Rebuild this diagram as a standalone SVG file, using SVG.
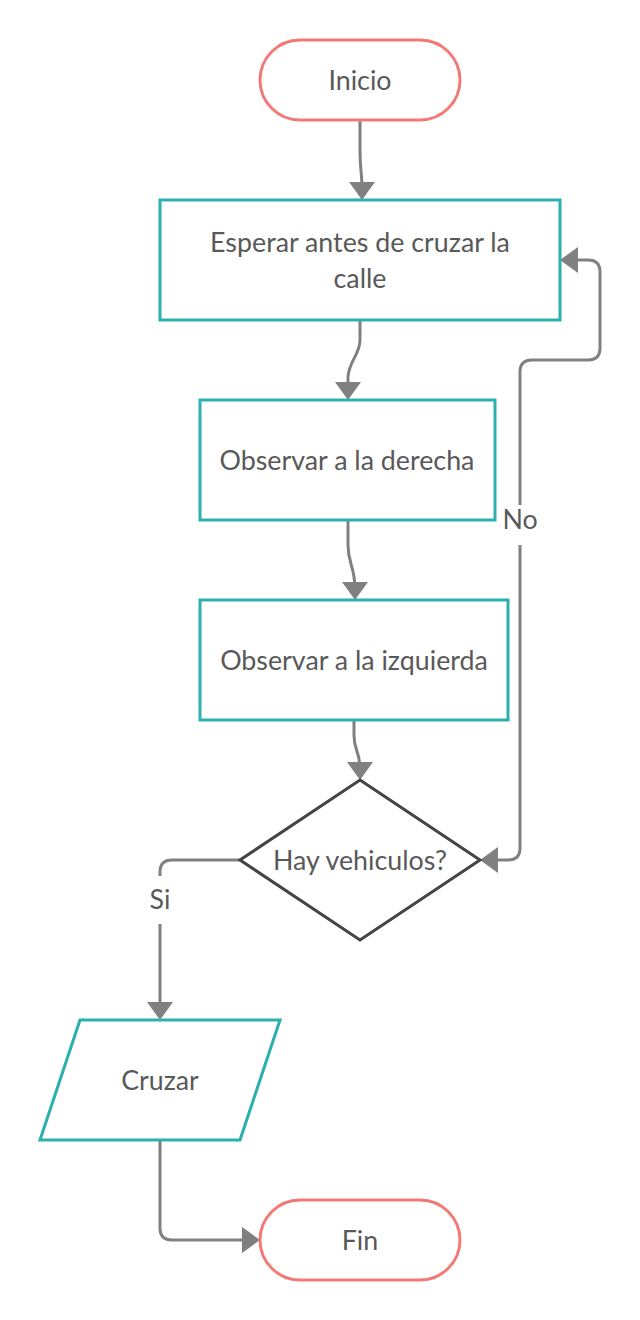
<svg xmlns="http://www.w3.org/2000/svg" width="640" height="1320" viewBox="0 0 640 1320">
<style>
.term{fill:#fff;stroke:#F27A76;stroke-width:3}
.proc{fill:#fff;stroke:#2AB0AD;stroke-width:3}
.dec{fill:#fff;stroke:#444;stroke-width:3}
.lbl{font-family:Lato,"Open Sans",sans-serif;font-size:26.8px;fill:#595959;text-anchor:middle}
.con{fill:none;stroke:#808080;stroke-width:3}
</style>
<defs>
<marker id="ah" viewBox="0 0 18 26" refX="8" refY="13" markerWidth="18" markerHeight="26" markerUnits="userSpaceOnUse" orient="auto-start-reverse">
<path d="M0,0 L18,13 L0,26 z" fill="#808080"/>
</marker>
</defs>
<g id="connectors">
<path class="con" d="M360,120 L360,150 C360,172 362,170 362,190" marker-end="url(#ah)"/>
<path class="con" d="M360,320 L360,340 C360,355 348,362 348,378 L348,390" marker-end="url(#ah)"/>
<path class="con" d="M348,520 L348,545 C348,565 355,565 355,590" marker-end="url(#ah)"/>
<path class="con" d="M354,720 L354,735 C354,752 360,750 360,770" marker-end="url(#ah)"/>
<path class="con" d="M570,260 L588,260 Q600,260 600,272 L600,348 Q600,360 588,360 L532,360 Q520,360 520,372 L520,505 M520,545 L520,848 Q520,860 508,860 L490,860" marker-start="url(#ah)" marker-end="url(#ah)"/>
<path class="con" d="M240,860 L172,860 Q160,860 160,872 L160,876 M160,924 L160,1010" marker-end="url(#ah)"/>
<path class="con" d="M160,1140 L160,1228 Q160,1240 172,1240 L250,1240" marker-end="url(#ah)"/>
<text class="lbl" x="520" y="529">No</text>
<text class="lbl" x="160" y="909">Si</text>
</g>
<g id="inicio">
<rect class="term" x="260" y="40" width="200" height="80" rx="40"/>
<text class="lbl" x="360" y="90">Inicio</text>
</g>
<g id="esperar">
<rect class="proc" x="160" y="200" width="400" height="120"/>
<text class="lbl" x="360" y="252">Esperar antes de cruzar la</text>
<text class="lbl" x="360" y="288">calle</text>
</g>
<g id="derecha">
<rect class="proc" x="200" y="400" width="295" height="120"/>
<text class="lbl" x="347" y="470">Observar a la derecha</text>
</g>
<g id="izquierda">
<rect class="proc" x="200" y="600" width="308" height="120"/>
<text class="lbl" x="354" y="670">Observar a la izquierda</text>
</g>
<g id="decision">
<polygon class="dec" points="360,780 480,860 360,940 240,860"/>
<text class="lbl" x="360" y="870">Hay vehiculos?</text>
</g>
<g id="cruzar">
<polygon class="proc" points="80,1020 280,1020 240,1140 40,1140"/>
<text class="lbl" x="160" y="1090">Cruzar</text>
</g>
<g id="fin">
<rect class="term" x="260" y="1200" width="200" height="80" rx="40"/>
<text class="lbl" x="360" y="1250">Fin</text>
</g>
</svg>
